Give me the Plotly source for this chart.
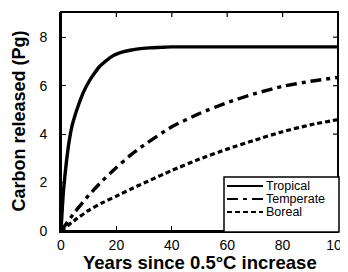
import plotly.graph_objects as go

# Data
trop_years = [0, 0.5, 1, 2, 3, 4, 5, 6, 8, 10, 12, 14, 16, 18, 20, 22, 25, 28, 32, 36, 40, 50, 60, 70, 80, 90, 100]
trop_carbon = [0, 1.0, 1.8, 2.9, 3.75, 4.35, 4.75, 5.1, 5.7, 6.15, 6.5, 6.8, 7.0, 7.18, 7.3, 7.38, 7.46, 7.52, 7.56, 7.58, 7.6, 7.6, 7.6, 7.6, 7.6, 7.6, 7.6]

temp_years = [0, 5, 10, 15, 20, 25, 30, 40, 50, 60, 70, 80, 90, 100]
temp_carbon = [0, 0.78, 1.47, 2.08, 2.62, 3.12, 3.55, 4.3, 4.85, 5.3, 5.67, 5.97, 6.18, 6.34]

bor_years = [0, 5, 10, 15, 20, 25, 30, 40, 50, 60, 70, 80, 90, 100]
bor_carbon = [0, 0.45, 0.85, 1.17, 1.44, 1.72, 1.98, 2.5, 2.97, 3.38, 3.75, 4.1, 4.38, 4.6]

series_names = ["Tropical", "Temperate", "Boreal"]
x_ticks = [0, 20, 40, 60, 80, 100]
y_ticks = [0, 2, 4, 6, 8]

FONT = "Liberation Sans, Arial, Helvetica, sans-serif"
STYLES = [
    dict(width=3.4, dash="solid"),
    dict(width=3.4, dash="11px,5px,4px,5px"),
    dict(width=3.2, dash="5px,3px"),
]

# The page body has an 8px margin, so the figure is drawn 8px in from the
# top-left of the window; size and margins compensate for that offset.
OFF = 8
W, H = 348 - OFF, 272 - OFF
L_S, R_S, T_S, B_S = 61, 338, 12, 231   # plot box in window pixels
L, T = L_S - OFF, T_S - OFF
R = W - (R_S - OFF)
B = H - (B_S - OFF)
PW, PH = R_S - L_S, B_S - T_S
TICKLEN = 5


def px_x(p):
    return (p - L_S) / PW


def px_y(p):
    return (B_S - p) / PH


fig = go.Figure()
for name, xs, ys, st in zip(series_names,
                            [trop_years, temp_years, bor_years],
                            [trop_carbon, temp_carbon, bor_carbon], STYLES):
    fig.add_trace(go.Scatter(x=xs, y=ys, mode="lines", name=name, showlegend=False,
                             line=dict(color="black", width=st["width"], dash=st["dash"],
                                       shape="spline", smoothing=0.6)))

shapes = []
# frame box (top and right sides) with mirrored inside ticks
shapes.append(dict(type="rect", xref="paper", yref="paper", x0=0, x1=1, y0=0, y1=1,
                   line=dict(color="black", width=2), layer="above"))
for xv in x_ticks[1:-1]:
    shapes.append(dict(type="line", xref="x", yref="paper", x0=xv, x1=xv,
                       y0=1, y1=1 - TICKLEN / PH, line=dict(color="black", width=1.2)))
for yv in y_ticks[1:]:
    shapes.append(dict(type="line", xref="paper", yref="y", x0=1, x1=1 - TICKLEN / PW,
                       y0=yv, y1=yv, line=dict(color="black", width=1.2)))

# legend box drawn manually to match compact spacing
LG_L, LG_R = 224, 339
shapes.append(dict(type="rect", xref="paper", yref="paper",
                   x0=px_x(LG_L), x1=px_x(LG_R), y0=px_y(232), y1=px_y(177),
                   line=dict(color="black", width=1.5), fillcolor="white", layer="above"))
annotations = []
row_y = [186, 199, 212]
for name, st, ry in zip(series_names, STYLES, row_y):
    shapes.append(dict(type="line", xref="paper", yref="paper",
                       x0=px_x(LG_L + 3), x1=px_x(LG_L + 39), y0=px_y(ry), y1=px_y(ry),
                       line=dict(color="black", width=2.2, dash=st["dash"]), layer="above"))
    annotations.append(dict(text=name, xref="paper", yref="paper", x=px_x(LG_L + 40), y=px_y(ry),
                            xanchor="left", yanchor="middle", showarrow=False,
                            font=dict(size=12.5, family=FONT, color="black")))

annotations.append(dict(text="<b>Years since 0.5°C increase</b>", xref="paper", yref="paper",
                        x=0.5, y=0, yshift=-31, xanchor="center", yanchor="middle",
                        showarrow=False, font=dict(size=18.5, family=FONT, color="black")))
annotations.append(dict(text="<b>Carbon released (Pg)</b>", xref="paper", yref="paper",
                        x=0, y=0.5, xshift=-43, xanchor="center", yanchor="middle",
                        textangle=-90, showarrow=False,
                        font=dict(size=18, family=FONT, color="black")))

fig.update_layout(
    width=W, height=H,
    margin=dict(l=L, r=R, t=T, b=B, autoexpand=False),
    paper_bgcolor="white", plot_bgcolor="white",
    font=dict(family=FONT, color="black", size=14),
    showlegend=False,
    shapes=shapes, annotations=annotations,
)
fig.update_xaxes(range=[0, 100], tickvals=x_ticks, ticktext=[str(v) for v in x_ticks],
                 showline=True, linecolor="black", linewidth=2.2,
                 ticks="inside", ticklen=TICKLEN, tickwidth=1.2, tickcolor="black",
                 showgrid=False, zeroline=False, automargin=False,
                 ticklabeloverflow="allow",
                 tickfont=dict(size=14))
fig.update_yaxes(range=[0, 9.04], tickvals=y_ticks, ticktext=[str(v) for v in y_ticks],
                 showline=True, linecolor="black", linewidth=2,
                 ticks="inside", ticklen=TICKLEN, tickwidth=1.2, tickcolor="black",
                 showgrid=False, zeroline=False, automargin=False,
                 ticklabelstandoff=9, ticklabeloverflow="allow",
                 tickfont=dict(size=14))

fig.write_html("out.html")
